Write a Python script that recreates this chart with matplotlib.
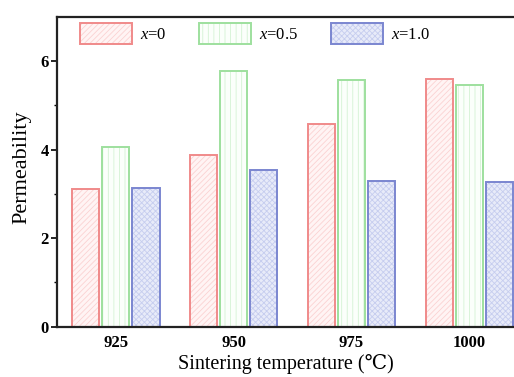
import matplotlib
matplotlib.use("Agg")
import matplotlib.pyplot as plt
import numpy as np

# sintering temperatures and permeability per composition
temps = ["925", "950", "975", "1000"]
perm_x0 = [3.11, 3.87, 4.58, 5.60]
perm_x05 = [4.06, 5.77, 5.57, 5.47]
perm_x10 = [3.14, 3.55, 3.29, 3.28]
labels = ["$x$=0", "$x$=0.5", "$x$=1.0"]

plt.rcParams['font.family'] = ['Liberation Serif', 'DejaVu Serif']
plt.rcParams['mathtext.fontset'] = 'custom'
plt.rcParams['mathtext.rm'] = 'Liberation Serif'
plt.rcParams['mathtext.it'] = 'Liberation Serif:italic'
plt.rcParams['hatch.linewidth'] = 0.6

fig = plt.figure(figsize=(5.14, 3.77), dpi=100)
ax = fig.add_axes([0.111, 0.1334, 0.889, 0.8215])

x = np.arange(len(temps))
w = 0.23
step = 0.255
# (values, outline colour, fill colour, hatch colour, hatch)
styles = [
    (perm_x0, '#f08a8a', '#fff4f4', '#fbd2d2', '//////'),
    (perm_x05, '#9ee09e', '#fbfffb', '#d4f2d4', '|||'),
    (perm_x10, '#7b86d0', '#e8ebf9', '#c6cdef', 'xxxxxx'),
]
handles = []
for i, (vals, ec, fc, hc, hatch) in enumerate(styles):
    fill = ax.bar(x + (i - 1) * step, vals, width=w, facecolor=fc, edgecolor=hc,
                  hatch=hatch, linewidth=0)
    edge = ax.bar(x + (i - 1) * step, vals, width=w, fill=False, edgecolor=ec,
                  linewidth=1.4)
    handles.append((fill, edge))

ax.set_xlim(-0.5, 3.38)
ax.set_ylim(0, 7)
ax.set_xticks(x)
ax.set_xticklabels(temps, fontsize=12, fontweight='bold')
ax.set_yticks([0, 2, 4, 6])
ax.set_yticks([1, 3, 5], minor=True)
ax.set_yticklabels(["0", "2", "4", "6"], fontsize=12, fontweight='bold')
ax.tick_params(axis='x', length=0, pad=6)
ax.tick_params(axis='y', which='major', length=4, width=1.2, direction='out', pad=2)
ax.tick_params(axis='y', which='minor', length=2.5, width=1.0, direction='out')

for s in ['left', 'bottom', 'top']:
    ax.spines[s].set_linewidth(1.6)
    ax.spines[s].set_color('#222222')
ax.spines['right'].set_visible(False)

ax.set_xlabel("Sintering temperature (\u2103)", fontsize=14.5, labelpad=2)
ax.set_ylabel("Permeability", fontsize=16, labelpad=2)
ax.yaxis.set_label_coords(-0.056, 0.515)

ax.legend(handles=handles, labels=labels, loc='upper left', bbox_to_anchor=(0.018, 1.03),
          ncol=3, frameon=False, fontsize=12, handlelength=3.1, handleheight=1.6,
          columnspacing=1.95, handletextpad=0.5)

plt.savefig("out.png", dpi=100)
